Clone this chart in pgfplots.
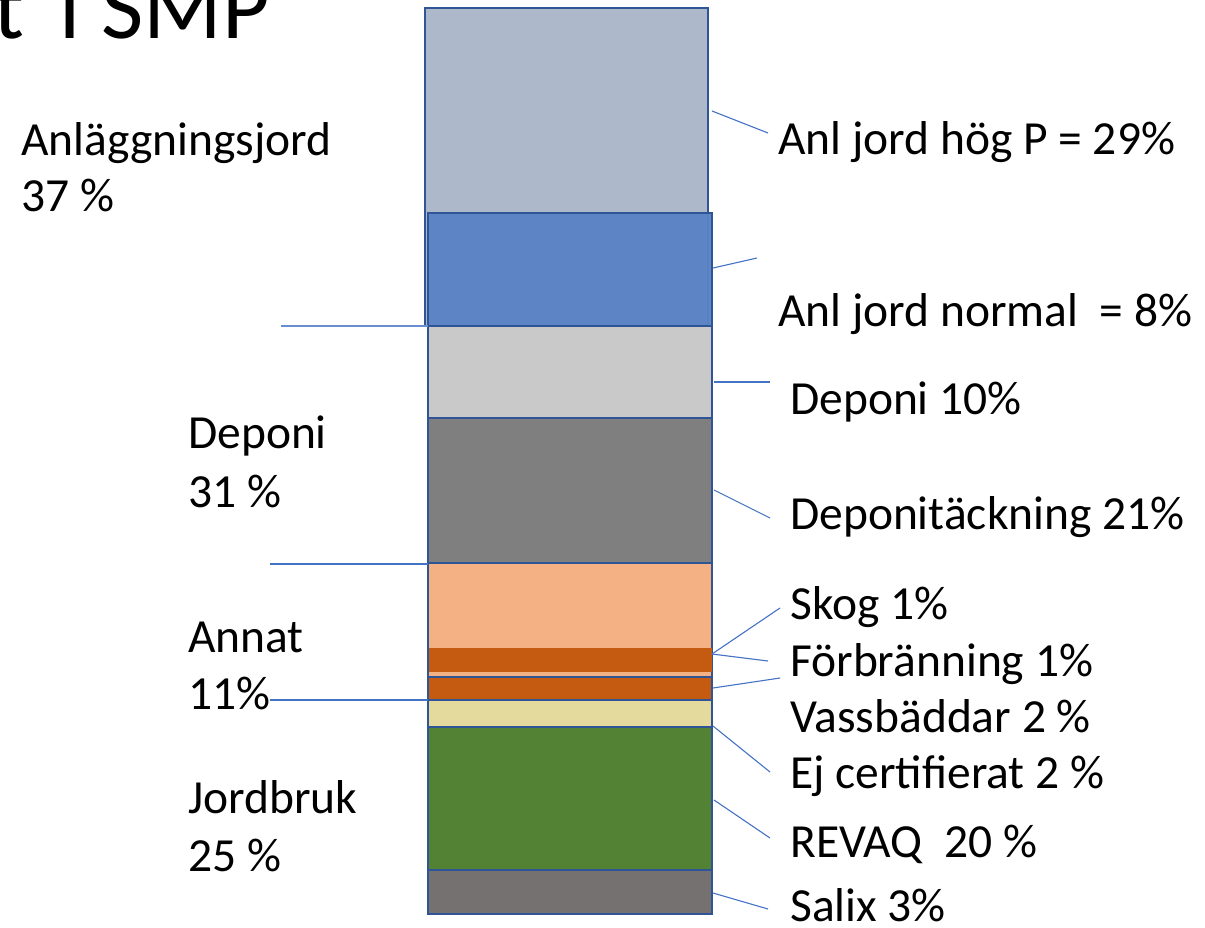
\documentclass[border=0pt]{standalone}
\usepackage{fontspec}
\setmainfont{Carlito}
\usepackage{pgfplots}
\pgfplotsset{compat=1.18}
\definecolor{hogp}{HTML}{ADB9CA}
\definecolor{normal}{HTML}{5B83C4}
\definecolor{depl}{HTML}{C9C9C9}
\definecolor{depd}{HTML}{7F7F7F}
\definecolor{annat}{HTML}{F4B183}
\definecolor{orng}{HTML}{C55A11}
\definecolor{yel}{HTML}{E5DA9E}
\definecolor{grn}{HTML}{548235}
\definecolor{salix}{HTML}{767171}
\definecolor{bord}{HTML}{2F5597}
\definecolor{conn}{HTML}{4472C4}
\begin{document}
\begin{tikzpicture}
\useasboundingbox (0,0) rectangle (1205pt,927pt);
\clip (0,0) rectangle (1205pt,927pt);
\begin{axis}[at={(0,0)}, anchor=south west, scale only axis,
  width=1205pt, height=927pt, xmin=0, xmax=1205, ymin=0, ymax=927,
  y dir=reverse, hide axis, clip=false]
% boxes (pixel units)
\addplot[fill=hogp, draw=bord, line width=2pt] coordinates {(425,8) (708,8) (708,326) (425,326)} -- cycle;
\addplot[fill=normal, draw=bord, line width=2.2pt, fill opacity=0.97] coordinates {(428,213) (712,213) (712,326) (428,326)} -- cycle;
\addplot[fill=depl, draw=bord, line width=2pt] coordinates {(428,326) (712,326) (712,418) (428,418)} -- cycle;
\addplot[fill=depd, draw=bord, line width=2pt] coordinates {(428,418) (712,418) (712,563) (428,563)} -- cycle;
\addplot[fill=annat, draw=bord, line width=2pt] coordinates {(428,563) (712,563) (712,677) (428,677)} -- cycle;
\addplot[fill=orng, draw=none] coordinates {(429,648) (712,648) (712,672) (429,672)} -- cycle;
\addplot[fill=orng, draw=bord, line width=2pt] coordinates {(428,677) (712,677) (712,700) (428,700)} -- cycle;
\addplot[fill=yel, draw=bord, line width=2pt] coordinates {(428,700) (712,700) (712,727) (428,727)} -- cycle;
\addplot[fill=grn, draw=bord, line width=2pt] coordinates {(428,727) (712,727) (712,870) (428,870)} -- cycle;
\addplot[fill=salix, draw=bord, line width=2pt] coordinates {(428,870) (712,870) (712,914) (428,914)} -- cycle;
% connector lines
\addplot[conn, line width=1.1pt] coordinates {(712,111) (768,133)};
\addplot[conn, line width=1.1pt] coordinates {(713,268) (757,258)};
\addplot[conn, line width=1.1pt] coordinates {(714,382) (770,382)};
\addplot[conn, line width=1.1pt] coordinates {(714,490) (770,518)};
\addplot[conn, line width=1.1pt] coordinates {(712,654) (780,608)};
\addplot[conn, line width=1.1pt] coordinates {(712,654) (768,661)};
\addplot[conn, line width=1.1pt] coordinates {(713,688) (780,678)};
\addplot[conn, line width=1.1pt] coordinates {(713,726) (770,772)};
\addplot[conn, line width=1.1pt] coordinates {(714,800) (770,838)};
\addplot[conn, line width=1.1pt] coordinates {(713,893) (768,909)};
\addplot[conn!80, line width=1.8pt] coordinates {(281,326) (428,326)};
\addplot[conn, line width=1.8pt] coordinates {(270,564) (428,564)};
\addplot[conn, line width=1.5pt] coordinates {(270,700) (428,700)};
% texts
\begin{scope}[every node/.style={inner sep=0pt, font=\fontsize{47.5}{57}\selectfont}]
\node[anchor=base east, font=\fontsize{92}{100}\selectfont] at (axis cs:270,38) {t\kern14pt{} i SMP};
\node[anchor=base west] at (axis cs:21,155) {Anläggningsjord};
\node[anchor=base west] at (axis cs:21,211) {37 \%};
\node[anchor=base west] at (axis cs:188,448) {Deponi};
\node[anchor=base west] at (axis cs:188,507) {31 \%};
\node[anchor=base west] at (axis cs:188,652) {Annat};
\node[anchor=base west] at (axis cs:188,709) {11\%};
\node[anchor=base west] at (axis cs:188,813) {Jordbruk};
\node[anchor=base west] at (axis cs:188,871) {25 \%};
\node[anchor=base west] at (axis cs:778,154) {Anl jord hög P = 29\%};
\node[anchor=base west] at (axis cs:778,326) {Anl jord normal \ = 8\%};
\node[anchor=base west] at (axis cs:790,414) {Deponi 10\%};
\node[anchor=base west] at (axis cs:790,529) {Deponitäckning 21\%};
\node[anchor=base west] at (axis cs:790,619) {Skog 1\%};
\node[anchor=base west] at (axis cs:790,676) {Förbränning 1\%};
\node[anchor=base west] at (axis cs:790,732) {Vassbäddar 2 \%};
\node[anchor=base west] at (axis cs:790,788) {Ej certifierat 2 \%};
\node[anchor=base west] at (axis cs:790,857) {REVAQ \ 20 \%};
\node[anchor=base west] at (axis cs:790,921) {Salix 3\%};
\end{scope}
\end{axis}
\end{tikzpicture}
\end{document}
